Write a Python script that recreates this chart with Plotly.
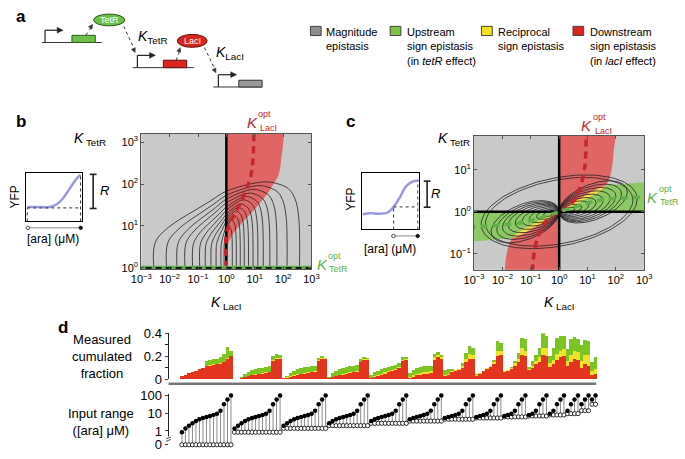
import numpy as np
import plotly.graph_objects as go

W, H = 685, 459
FONT = "Liberation Sans, Arial, sans-serif"

# ---------------- panel b (values in log10 units) ----------------
b_arch_left_foot = [-2.56, -2.11, -1.74, -1.46, -1.19, -0.94, -0.74, -0.54, -0.36, -0.19, -0.08, -0.02]
b_arch_right_foot = [2.58, 2.14, 1.78, 1.53, 1.30, 1.11, 0.94, 0.78, 0.63, 0.49, 0.35, 0.21]
b_arch_cross_height = [1.83, 1.73, 1.64, 1.55, 1.45, 1.37, 1.28, 1.20, 1.12, 1.02, 0.92, 0.81]
b_arch_peak_height = [2.05, 1.96, 1.87, 1.78, 1.70, 1.62, 1.52, 1.44, 1.35, 1.25, 1.13, 0.96]
b_red_band_u = [0, 1.92, 1.92, 1.83, 1.66, 1.49, 1.03, 0.51, 0.23, 0.06, 0.02, 0]
b_red_band_v = [3.5, 3.5, 2.5, 2.19, 2.0, 1.81, 1.42, 1.04, 0.81, 0.58, 0.27, 0]
b_opt_laci_u = [0, 0, 0.11, 0.40, 0.66, 0.86, 0.94, 0.97]
b_opt_laci_v = [0, 0.80, 1.04, 1.42, 1.80, 2.19, 2.58, 3.3]

# ---------------- panel c ----------------
c_red_curve_u = [0, 0.5, 1.0, 1.4, 1.6, 1.75, 1.86, 1.92, 1.92]
c_red_curve_v = [0, 0.14, 0.32, 0.47, 0.58, 0.75, 1.04, 1.42, 2.0]
c_green_curve_u = [0, 0.5, 1.0, 1.4, 1.7, 2.1, 3.2]
c_green_curve_v = [0, 0.22, 0.42, 0.56, 0.63, 0.65, 0.66]
c_lens_u = [0, 0.5, 1.0, 1.4, 1.65, 1.4, 1.0, 0.5, 0]
c_lens_v = [0, 0.14, 0.32, 0.47, 0.62, 0.56, 0.42, 0.22, 0]
c_opt_laci_u = [0, 0.3, 0.55, 0.72, 0.85, 0.92, 0.96]
c_opt_laci_v = [0, 0.12, 0.3, 0.55, 0.85, 1.2, 2.0]
c_opt_tetr_u = [0, 0.46, 1.26, 2.06, 3.2]
c_opt_tetr_v = [0, 0.1, 0.25, 0.32, 0.36]
c_outer_a = [2.6, 2.75]
c_outer_b = [0.82, 0.88]
c_lobe_right_end = [0.55, 0.8, 1.05, 1.3, 1.55, 1.8, 2.0, 2.2, 2.4]
c_lobe_top = [0.11, 0.18, 0.26, 0.34, 0.42, 0.50, 0.58, 0.66, 0.74]

# ---------------- insets ----------------
b_inset_x = [0.03, 0.2, 0.43, 0.55, 0.66, 0.78, 0.9, 0.98]
b_inset_y = [0.3, 0.3, 0.3, 0.35, 0.47, 0.67, 0.87, 0.97]
c_inset_x = [0.02, 0.15, 0.3, 0.45, 0.56, 0.67, 0.78, 0.92, 1.0]
c_inset_y = [0.27, 0.29, 0.28, 0.3, 0.4, 0.57, 0.77, 0.86, 0.87]

# ---------------- panel d ----------------
ara_conc = [0, 0.85, 1.4, 2.0, 2.7, 3.6, 4.6, 5.4, 6.2, 7.0, 8.0, 9.5, 14, 32, 60, 100]
ZERO_LEVEL = 0.166
d_red = [
    [0.028, 0.04, 0.052, 0.064, 0.076, 0.088, 0.10, 0.115, 0.12, 0.125, 0.13, 0.135, 0.15, 0.18, 0.20],
    [0.003, 0.006, 0.012, 0.02, 0.028, 0.035, 0.04, 0.045, 0.05, 0.055, 0.06, 0.16, 0.18, 0.18],
    [0.008, 0.015, 0.022, 0.03, 0.038, 0.045, 0.05, 0.055, 0.06, 0.065, 0.16, 0.18, 0.18],
    [0.01, 0.018, 0.026, 0.034, 0.042, 0.05, 0.056, 0.062, 0.068, 0.15, 0.17, 0.17],
    [0.01, 0.02, 0.03, 0.04, 0.05, 0.06, 0.07, 0.08, 0.10, 0.16, 0.17],
    [0.015, 0.025, 0.035, 0.04, 0.045, 0.05, 0.055, 0.17, 0.19, 0.18],
    [0.03, 0.04, 0.06, 0.07, 0.08, 0.10, 0.15, 0.18, 0.18],
    [0.03, 0.05, 0.07, 0.09, 0.11, 0.13, 0.20, 0.21],
    [0.06, 0.07, 0.09, 0.12, 0.15, 0.21, 0.20],
    [0.08, 0.10, 0.13, 0.15, 0.21, 0.20],
    [0.11, 0.13, 0.17, 0.19, 0.20],
    [0.12, 0.15, 0.18, 0.17],
    [0.10, 0.13, 0.12],
    [0.04, 0.05],
]
d_yellow = [
    [0, 0, 0, 0, 0, 0, 0, 0.005, 0.005, 0.005, 0.005, 0.005, 0.005, 0.005, 0.005],
    [0, 0, 0.003, 0.005, 0.005, 0.005, 0.005, 0.005, 0.005, 0.005, 0.005, 0.005, 0.005, 0.005],
    [0, 0.003, 0.005, 0.005, 0.005, 0.005, 0.005, 0.005, 0.005, 0.005, 0.005, 0.005, 0.005],
    [0.003, 0.005, 0.005, 0.005, 0.005, 0.005, 0.005, 0.005, 0.005, 0.005, 0.005, 0.005],
    [0.005, 0.01, 0.01, 0.01, 0.01, 0.01, 0.01, 0.01, 0.01, 0.01, 0.005],
    [0.01, 0.015, 0.015, 0.015, 0.015, 0.015, 0.015, 0.02, 0.02, 0.015],
    [0.01, 0.01, 0.01, 0.01, 0.01, 0.02, 0.03, 0.04, 0.03],
    [0.005, 0.005, 0.005, 0.01, 0.01, 0.02, 0.05, 0.04],
    [0.01, 0.01, 0.01, 0.02, 0.03, 0.06, 0.05],
    [0.01, 0.02, 0.03, 0.04, 0.06, 0.07],
    [0.03, 0.04, 0.05, 0.06, 0.06],
    [0.04, 0.06, 0.07, 0.07],
    [0.06, 0.08, 0.09],
    [0.03, 0.04],
]
d_green = [
    [0, 0, 0, 0, 0, 0, 0, 0.04, 0.045, 0.045, 0.045, 0.05, 0.065, 0.095, 0.045],
    [0, 0, 0.01, 0.025, 0.03, 0.04, 0.045, 0.045, 0.045, 0.05, 0.05, 0.04, 0.035, 0.025],
    [0.005, 0.015, 0.03, 0.04, 0.045, 0.05, 0.05, 0.05, 0.05, 0.045, 0.02, 0.015, 0.0],
    [0.01, 0.03, 0.04, 0.05, 0.05, 0.055, 0.055, 0.05, 0.05, 0.02, 0.015, 0.01],
    [0.02, 0.03, 0.035, 0.04, 0.04, 0.04, 0.04, 0.035, 0.03, 0.02, 0.02],
    [0.03, 0.04, 0.045, 0.05, 0.055, 0.055, 0.05, 0.03, 0.025, 0.02],
    [0.04, 0.04, 0.02, 0.0, 0.0, 0.02, 0.05, 0.07, 0.06],
    [0.01, 0.0, 0.0, 0.0, 0.0, 0.02, 0.08, 0.07],
    [0.0, 0.0, 0.01, 0.02, 0.05, 0.09, 0.10],
    [0.02, 0.04, 0.05, 0.08, 0.13, 0.11],
    [0.06, 0.10, 0.14, 0.13, 0.12],
    [0.10, 0.14, 0.12, 0.11],
    [0.14, 0.13, 0.12],
    [0.08, 0.10],
]

# ---------------- colours ----------------
GRAY_BG = "#c9c9c9"
RED_FILL = "#e06666"
GREEN_FILL = "#8cc864"
YELLOW_FILL = "#efe24a"
RED_DASH = "#c4262e"
GREEN_DASH = "#5fb04a"
BAR_RED, BAR_YEL, BAR_GRN = "#e3341f", "#f2e12c", "#7cc424"


def X(px):
    return px / W


def Y(py):
    return 1 - py / H


def P(vals):
    return [10 ** v for v in vals]


fig = go.Figure()
shapes = []
annotations = []


def pline(x0, y0, x1, y1, color="#333", width=1, dash=None):
    shapes.append(dict(type="line", xref="paper", yref="paper", x0=X(x0), y0=Y(y0), x1=X(x1), y1=Y(y1),
                       line=dict(color=color, width=width, dash=dash)))


def prect(x0, y0, x1, y1, fill, color="#333", width=1):
    shapes.append(dict(type="rect", xref="paper", yref="paper", x0=X(x0), y0=Y(y0), x1=X(x1), y1=Y(y1),
                       fillcolor=fill, line=dict(color=color, width=width)))


def pellipse(x0, y0, x1, y1, fill, color="#333", width=1):
    shapes.append(dict(type="circle", xref="paper", yref="paper", x0=X(x0), y0=Y(y0), x1=X(x1), y1=Y(y1),
                       fillcolor=fill, line=dict(color=color, width=width)))


def arrowhead(xh, yh, dx, dy, color="#333", length=5.0, half=2.4):
    ln = (dx * dx + dy * dy) ** 0.5
    ux, uy = dx / ln, dy / ln
    nx, ny = -uy, ux
    bx0, by0 = xh - length * ux, yh - length * uy
    pts = [(xh, yh), (bx0 + half * nx, by0 + half * ny), (bx0 - half * nx, by0 - half * ny)]
    path = "M " + " L ".join(f"{X(px):.5f},{Y(py):.5f}" for px, py in pts) + " Z"
    shapes.append(dict(type="path", xref="paper", yref="paper", path=path, fillcolor=color,
                       line=dict(color=color, width=0.5)))


def txt(s, x, y, size=11, color="black", xanchor="center", yanchor="middle", **kw):
    annotations.append(dict(text=s, x=X(x), y=Y(y), xref="paper", yref="paper", showarrow=False,
                            font=dict(size=size, color=color, family=FONT), xanchor=xanchor,
                            yanchor=yanchor, **kw))


def line_trace(u, v, xa, ya, color, width, dash=None, shape="spline"):
    fig.add_trace(go.Scatter(x=P(u), y=P(v), mode="lines",
                             line=dict(color=color, width=width, dash=dash, shape=shape),
                             xaxis=xa, yaxis=ya, hoverinfo="skip"))


def fill_trace(u, v, xa, ya, color, shape="spline"):
    fig.add_trace(go.Scatter(x=P(u), y=P(v), mode="lines", fill="toself", fillcolor=color,
                             line=dict(width=0, shape=shape, smoothing=0.8), xaxis=xa, yaxis=ya,
                             hoverinfo="skip"))


# ================= panel b =================
fill_trace(b_red_band_u, b_red_band_v, "x", "y", RED_FILL)
for L, R, H0, Hp in zip(b_arch_left_foot, b_arch_right_foot, b_arch_cross_height, b_arch_peak_height):
    us = [L * f for f in [1, 1, 0.957, 0.84, 0.67, 0.445, 0.22, 0]]
    vs = [0, 0.45] + [0.45 + (H0 - 0.45) * f for f in [0.17, 0.33, 0.49, 0.66, 0.83, 1.0]]
    xp = 0.5 * R
    d = R - xp
    us += [xp, xp + 0.35 * d, xp + 0.7 * d, xp + 0.88 * d, xp + 0.97 * d, R, R]
    vs += [Hp, 0.985 * Hp, 0.92 * Hp, 0.8 * Hp, 0.62 * Hp, 0.38 * Hp, 0]
    line_trace(us, vs, "x", "y", "#222", 0.8)
line_trace([0, 0], [-0.1, 3.4], "x", "y", "black", 2.5, shape="linear")
line_trace(b_opt_laci_u, b_opt_laci_v, "x", "y", RED_DASH, 3.5, dash="7px,5px")
line_trace([-3.2, 3.2], [0, 0], "x", "y", GREEN_DASH, 4.5, shape="linear")
line_trace([-3.2, 3.2], [0, 0], "x", "y", "black", 1.8, dash="6px,4px", shape="linear")

# ================= panel c =================
fill_trace([0] + c_green_curve_u + [3.2], [0] + c_green_curve_v + [0], "x2", "y2", GREEN_FILL)
fill_trace([-u for u in c_green_curve_u] + [-3.2], [-v for v in c_green_curve_v] + [0], "x2", "y2", GREEN_FILL)
fill_trace(c_red_curve_u + [0], c_red_curve_v + [2.0], "x2", "y2", RED_FILL)
fill_trace([-u for u in c_red_curve_u] + [0], [-v for v in c_red_curve_v] + [-2.0], "x2", "y2", RED_FILL)
fill_trace(c_lens_u, c_lens_v, "x2", "y2", YELLOW_FILL)
fill_trace([-u for u in c_lens_u], [-v for v in c_lens_v], "x2", "y2", YELLOW_FILL)

t = np.linspace(0, 2 * np.pi, 121)
phi_outer = np.deg2rad(70)
for a, b in zip(c_outer_a, c_outer_b):
    line_trace(a * np.cos(t), b * np.cos(t - phi_outer), "x2", "y2", "#222", 0.8, shape="linear")
phi_lobe = np.deg2rad(62)
for r_end, top in zip(c_lobe_right_end, c_lobe_top):
    a = r_end / 2
    b = top / (1 + np.cos(phi_lobe))
    uu = a + a * np.cos(t)
    vv = b * np.cos(phi_lobe) + b * np.cos(t - phi_lobe)
    line_trace(uu, vv, "x2", "y2", "#222", 0.8, shape="linear")
    line_trace(-uu, -vv, "x2", "y2", "#222", 0.8, shape="linear")

line_trace([0, 0], [-2, 2], "x2", "y2", "black", 2.5, shape="linear")
line_trace([-3.2, 3.2], [0, 0], "x2", "y2", "black", 2.5, shape="linear")
line_trace([-u for u in c_opt_laci_u[::-1]] + c_opt_laci_u[1:],
           [-v for v in c_opt_laci_v[::-1]] + c_opt_laci_v[1:], "x2", "y2", RED_DASH, 3.5, dash="7px,5px")
line_trace([-u for u in c_opt_tetr_u[::-1]] + c_opt_tetr_u[1:],
           [-v for v in c_opt_tetr_v[::-1]] + c_opt_tetr_v[1:], "x2", "y2", GREEN_DASH, 3.5, dash="7px,5px")

# ================= insets =================
fig.add_trace(go.Scatter(x=b_inset_x, y=b_inset_y, mode="lines", line=dict(color="#9a9ae0", width=2.5, shape="spline"),
                         xaxis="x3", yaxis="y3", hoverinfo="skip"))
fig.add_trace(go.Scatter(x=c_inset_x, y=c_inset_y, mode="lines", line=dict(color="#9a9ae0", width=2.5, shape="spline"),
                         xaxis="x4", yaxis="y4", hoverinfo="skip"))
for xr, yr, segs in [("x3", "y3", [(0.03, 0.28, 0.98, 0.28), (0.98, 0, 0.98, 0.97), (0.03, 0, 0.03, 0.28)]),
                     ("x4", "y4", [(0.56, 0.4, 1.0, 0.4), (0.56, 0, 0.56, 0.4), (0.985, 0, 0.985, 0.87)])]:
    for x0, y0, x1, y1 in segs:
        shapes.append(dict(type="line", xref=xr, yref=yr, x0=x0, y0=y0, x1=x1, y1=y1,
                           line=dict(color="#333", width=1, dash="dot")))

# ================= panel d =================
bx, red, yel, grn = [], [], [], []
low_x, low_y, high_y, stem_x, stem_y = [], [], [], [], []
pos = 0
for g in range(len(d_red)):
    for k, j in enumerate(range(g + 1, len(ara_conc))):
        bx.append(pos)
        red.append(d_red[g][k])
        yel.append(d_yellow[g][k])
        grn.append(d_green[g][k])
        lo = ara_conc[g] if ara_conc[g] > 0 else ZERO_LEVEL
        hi = ara_conc[j]
        low_x.append(pos)
        low_y.append(lo)
        high_y.append(hi)
        stem_x += [pos, pos, None]
        stem_y += [lo, hi, None]
        pos += 1

for vals, col in [(red, BAR_RED), (yel, BAR_YEL), (grn, BAR_GRN)]:
    fig.add_trace(go.Bar(x=bx, y=vals, width=1, marker=dict(color=col, line=dict(width=0)),
                         xaxis="x5", yaxis="y5", hoverinfo="skip"))
fig.add_trace(go.Scatter(x=stem_x, y=stem_y, mode="lines", line=dict(color="#8c8c8c", width=1),
                         xaxis="x6", yaxis="y6", hoverinfo="skip"))
fig.add_trace(go.Scatter(x=low_x, y=low_y, mode="markers",
                         marker=dict(symbol="circle", size=4.2, color="white", line=dict(color="black", width=0.8)),
                         xaxis="x6", yaxis="y6", hoverinfo="skip", cliponaxis=False))
fig.add_trace(go.Scatter(x=low_x, y=high_y, mode="markers",
                         marker=dict(symbol="circle", size=4.5, color="black"),
                         xaxis="x6", yaxis="y6", hoverinfo="skip", cliponaxis=False))

# ================= shapes: backgrounds =================
for xr, yr in [("x", "y"), ("x2", "y2")]:
    shapes.append(dict(type="rect", xref=xr + " domain", yref=yr + " domain", x0=0, x1=1, y0=0, y1=1,
                       fillcolor=GRAY_BG, line=dict(width=0), layer="below"))

# ================= panel a diagram =================
pline(31.7, 36.7, 93.3, 36.7)
pline(125, 62.7, 188, 62.7)
pline(208, 82.7, 258.3, 82.7)
for xv, yb, yt, xe in [(35, 36.7, 24, 48), (130, 62.7, 50, 143), (213.3, 82.7, 70, 226.5)]:
    pline(xv, yb, xv, yt, color="#222", width=1.2)
    pline(xv, yt, xe, yt, color="#222", width=1.2)
    arrowhead(xe + 5.5, yt, 1, 0, color="#222", length=6, half=3)
prect(62.7, 29.3, 86.7, 36.7, "#6cc04a", color="#2d5a1c")
prect(156.7, 55, 180.7, 62.7, "#d9261c", color="#6a1010")
prect(234.3, 75.7, 258.3, 82.7, "#9a9a9a", color="#333")
pellipse(85, 7.3, 117, 19.5, "#6cc04a", color="#2d5a1c")
pellipse(171, 28.3, 201.7, 41.7, "#d9261c", color="#6a1010")
for (x0, y0, x1, y1) in [(77, 29, 83, 21), (116, 20, 127, 44), (170, 55, 173.5, 45), (199, 42, 210, 65)]:
    pline(x0, y0, x1, y1, color="#333", width=1, dash="dot")
    arrowhead(x1 + 0.5 * (x1 - x0) / abs(y1 - y0) * 3, y1 + 3 * (1 if y1 > y0 else -1), x1 - x0, y1 - y0,
              color="#333", length=4.5, half=2.2)
txt("TetR", 101, 13.5, size=9, color="white")
txt("LacI", 186.3, 35.2, size=9, color="white")
txt("<i>K</i><sub>TetR</sub>", 129, 31, size=14, xanchor="left")
txt("<i>K</i><sub>LacI</sub>", 209, 48, size=14, xanchor="left")

# legend
for x0, col in [(308, "#8e8e8e"), (390, "#7dc242"), (484, "#f4e11f"), (578, "#d8261e")]:
    prect(x0, 20, x0 + 11, 29.5, col, color="#444", width=1)
txt("Magnitude<br>epistasis", 322, 17.5, xanchor="left", yanchor="top", align="left")
txt("Upstream<br>sign epistasis<br>(in <i>tetR</i> effect)", 405, 17.5, xanchor="left", yanchor="top", align="left")
txt("Reciprocal<br>sign epistasis", 499, 17.5, xanchor="left", yanchor="top", align="left")
txt("Downstream<br>sign epistasis<br>(in <i>lacI</i> effect)", 593, 17.5, xanchor="left", yanchor="top", align="left")

# panel letters
txt("<b>a</b>", 3, 10, size=17, xanchor="left")
txt("<b>b</b>", 3, 118, size=17, xanchor="left")
txt("<b>c</b>", 342, 118, size=17, xanchor="left")
txt("<b>d</b>", 46, 331, size=17, xanchor="left")

# panel b / c labels
txt("<i>K</i><sub> TetR</sub>", 81, 136, size=14)
txt("<i>K</i><sub> TetR</sub>", 456, 136, size=14)
txt("<i>K</i><sub> LacI</sub>", 222, 306, size=14)
txt("<i>K</i><sub> LacI</sub>", 564, 306, size=14)
for kx, ky in [(248, 119), (592, 122)]:
    txt("<i>K</i>", kx, ky, size=15, color=RED_DASH)
    txt("opt", kx + 13, ky - 8, size=9, color=RED_DASH)
    txt("LacI", kx + 17, ky + 6, size=9, color=RED_DASH)
for kx, ky in [(320, 266), (660, 197)]:
    txt("<i>K</i>", kx, ky, size=15, color=GREEN_DASH)
    txt("opt", kx + 13, ky - 9, size=9, color=GREEN_DASH)
    txt("TetR", kx + 17, ky + 5, size=9, color=GREEN_DASH)

# insets decorations
txt("YFP", 4, 196, size=12, textangle=-90)
txt("YFP", 350, 199, size=12, textangle=-90)
txt("[ara] (μM)", 43.5, 240, size=12)
txt("[ara] (μM)", 389.5, 250, size=12)
txt("<i>R</i>", 96, 190, size=13)
txt("<i>R</i>", 437, 193, size=13)
for xc, y0, y1 in [(84.5, 173, 208.3), (428, 180, 207)]:
    pline(xc, y0, xc, y1, color="#222", width=1.6)
    pline(xc - 3.5, y0, xc + 3.5, y0, color="#222", width=1.6)
    pline(xc - 3.5, y1, xc + 3.5, y1, color="#222", width=1.6)
for xa, xb, yy in [(17.3, 71.7, 228.3), (393.3, 418.3, 236.7)]:
    pline(xa, yy, xb, yy, color="#888", width=1)
    pellipse(xa - 1.8, yy - 1.8, xa + 1.8, yy + 1.8, "white", color="#222", width=0.8)
    pellipse(xb - 1.8, yy - 1.8, xb + 1.8, yy + 1.8, "#111", color="#111", width=0.8)

# panel d decorations
txt("Measured<br>cumulated<br>fraction", 94, 361, size=13)
txt("Input range<br>([ara] μM)", 93, 429, size=13)
pline(162, 389.5, 602, 389.5, color="#777", width=2.5)
pline(162, 400, 162, 444, color="#222", width=1)
pline(159.5, 446.5, 164.5, 444.5, color="#222", width=0.8)
pline(159.5, 449, 164.5, 447, color="#222", width=0.8)

# ================= axes =================
dec_text = {-3: "10<sup>−3</sup>", -2: "10<sup>−2</sup>", -1: "10<sup>−1</sup>", 0: "10<sup>0</sup>",
            1: "10<sup>1</sup>", 2: "10<sup>2</sup>", 3: "10<sup>3</sup>"}
main_ax = dict(type="log", showgrid=False, zeroline=False, showline=True, mirror="ticks", linecolor="#555",
               linewidth=1, ticks="inside", ticklen=3, tickcolor="#555", tickfont=dict(size=11, family=FONT))
xdec = [-3, -2, -1, 0, 1, 2, 3]
inset_ax = dict(range=[0, 1], showgrid=False, zeroline=False, showline=True, mirror=True, linecolor="black",
                linewidth=1, showticklabels=False, ticks="")
d_x = dict(range=[-3.83, 118.5], showgrid=False, zeroline=False, showline=False, showticklabels=False, ticks="")

fig.update_layout(
    width=W, height=H, margin=dict(l=0, r=0, t=0, b=0), paper_bgcolor="white", plot_bgcolor="white",
    showlegend=False, barmode="stack", bargap=0, font=dict(family=FONT, color="black"),
    xaxis=dict(main_ax, domain=[X(134), X(309)], range=[-3, 3], anchor="y",
               tickvals=P(xdec), ticktext=[dec_text[d] for d in xdec]),
    yaxis=dict(main_ax, domain=[Y(271), Y(131)], range=[-0.03, 3.2], anchor="x",
               tickvals=P([0, 1, 2, 3]), ticktext=[dec_text[d] for d in [0, 1, 2, 3]]),
    xaxis2=dict(main_ax, domain=[X(476.3), X(651.3)], range=[-3, 3], anchor="y2",
                tickvals=P(xdec), ticktext=[dec_text[d] for d in xdec]),
    yaxis2=dict(main_ax, domain=[Y(271.7), Y(133.3)], range=[-1.385, 1.81], anchor="x2",
                tickvals=P([-1, 0, 1]), ticktext=[dec_text[d] for d in [-1, 0, 1]]),
    xaxis3=dict(inset_ax, domain=[X(15), X(72.7)], anchor="y3"),
    yaxis3=dict(inset_ax, domain=[Y(221.7), Y(171.7)], anchor="x3"),
    xaxis4=dict(inset_ax, domain=[X(360.7), X(419.3)], anchor="y4"),
    yaxis4=dict(inset_ax, domain=[Y(230), Y(171.7)], anchor="x4"),
    xaxis5=dict(d_x, domain=[X(162), X(603)], anchor="y5"),
    yaxis5=dict(domain=[Y(385), Y(337.3)], range=[0, 0.4], anchor="x5", showgrid=False, zeroline=False,
                showline=True, linecolor="#222", linewidth=1, ticks="outside", ticklen=3,
                tick0=0, dtick=0.2, tickformat=".1~f",
                minor=dict(dtick=0.1, ticks="outside", ticklen=3, tickcolor="#222", showgrid=False),
                tickfont=dict(size=13, family=FONT)),
    xaxis6=dict(d_x, domain=[X(162), X(603)], anchor="y6"),
    yaxis6=dict(type="log", domain=[Y(456), Y(400)], range=[-0.967, 2.09], anchor="x6", showgrid=False,
                zeroline=False, showline=False, ticks="outside", ticklen=3,
                tickvals=[ZERO_LEVEL, 1, 10, 100], ticktext=["0", "1", "10", "100"],
                tickfont=dict(size=13, family=FONT)),
    shapes=shapes, annotations=annotations,
)

fig.write_html("out.html", config={"displayModeBar": False, "staticPlot": True},
               post_script="document.body.style.margin='0px';")
